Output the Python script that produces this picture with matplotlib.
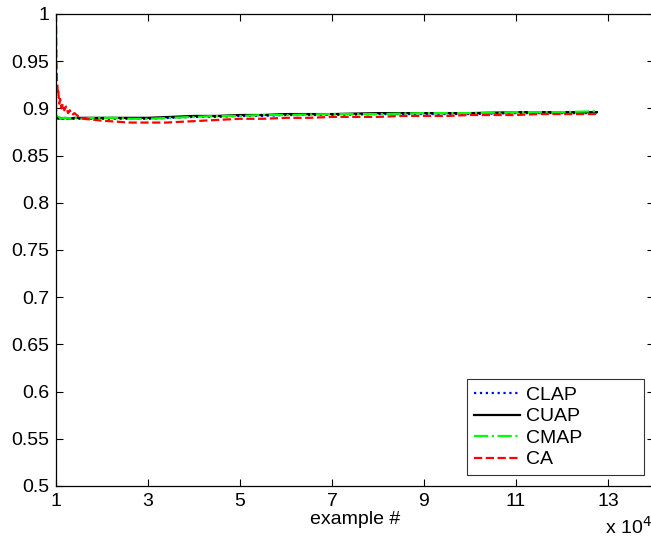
import matplotlib
matplotlib.use('Agg')
import matplotlib.pyplot as plt

plt.rcParams['font.family'] = ['Liberation Sans', 'DejaVu Sans']

# accuracy curves (x = example #)
ca_x = [10000, 10050, 10100, 10200, 10300, 10400, 10500, 10700, 10900, 11200,
        11500, 11800, 12200, 12600, 13000, 13500, 14000, 15000, 16000, 18000,
        20000, 23000, 26000, 30000, 34000, 38000, 42000, 46000, 50000, 55000,
        60000, 65000, 70000, 75000, 80000, 85000, 90000, 95000, 100000, 105000,
        110000, 115000, 120000, 124000, 127600]
ca_y = [1.0, 0.97, 0.95, 0.93, 0.925, 0.915, 0.918, 0.905, 0.91, 0.90,
        0.905, 0.898, 0.902, 0.895, 0.898, 0.893, 0.895, 0.891, 0.889, 0.888,
        0.887, 0.886, 0.885, 0.885, 0.885, 0.886, 0.887, 0.888, 0.889, 0.889,
        0.890, 0.890, 0.891, 0.891, 0.891, 0.892, 0.892, 0.892, 0.893, 0.893,
        0.893, 0.894, 0.894, 0.894, 0.894]

base_x = [10000, 10100, 10300, 10600, 11000, 11500, 12000, 13000, 14000, 16000,
          18000, 20000, 23000, 26000, 30000, 35000, 40000, 45000, 50000, 55000,
          60000, 70000, 80000, 90000, 100000, 110000, 120000, 127600]
cuap_y = [0.893, 0.889, 0.891, 0.889, 0.890, 0.889, 0.890, 0.889, 0.890, 0.890,
          0.890, 0.890, 0.890, 0.890, 0.890, 0.891, 0.892, 0.892, 0.893, 0.893,
          0.894, 0.894, 0.895, 0.895, 0.895, 0.896, 0.896, 0.896]
cmap_y = [0.912, 0.892, 0.889, 0.891, 0.889, 0.890, 0.890, 0.889, 0.890, 0.889,
          0.890, 0.890, 0.890, 0.889, 0.889, 0.890, 0.891, 0.892, 0.892, 0.893,
          0.893, 0.894, 0.894, 0.895, 0.895, 0.896, 0.896, 0.897]
clap_y = [0.890, 0.889, 0.890, 0.889, 0.889, 0.889, 0.889, 0.889, 0.889, 0.889,
          0.889, 0.889, 0.889, 0.889, 0.889, 0.890, 0.891, 0.891, 0.892, 0.892,
          0.893, 0.893, 0.894, 0.894, 0.894, 0.895, 0.895, 0.895]

xticks = [10000, 30000, 50000, 70000, 90000, 110000, 130000]
xtick_labels = ['1', '3', '5', '7', '9', '11', '13']
yticks = [0.5, 0.55, 0.6, 0.65, 0.7, 0.75, 0.8, 0.85, 0.9, 0.95, 1.0]
ytick_labels = ['0.5', '0.55', '0.6', '0.65', '0.7', '0.75', '0.8', '0.85', '0.9', '0.95', '1']

fig = plt.figure(figsize=(6.51, 5.39), dpi=100)
ax = fig.add_axes([56 / 651, 53 / 539, 598 / 651, 472 / 539])

ax.plot(base_x, clap_y, color='blue', linestyle=':', linewidth=1.6, label='CLAP')
ax.plot(base_x, cuap_y, color='black', linestyle='-', linewidth=1.6, label='CUAP')
ax.plot(base_x, cmap_y, color='#00ff00', linestyle='-.', linewidth=1.6, label='CMAP')
ax.plot(ca_x, ca_y, color='red', linestyle='--', linewidth=1.6, label='CA')

ax.set_xlim(10000, 140000)
ax.set_ylim(0.5, 1.0)
ax.set_xticks(xticks)
ax.set_xticklabels(xtick_labels)
ax.set_yticks(yticks)
ax.set_yticklabels(ytick_labels)
ax.tick_params(direction='in', top=True, right=True, length=5, width=0.8,
               labelsize=14, pad=5)
for s in ax.spines.values():
    s.set_linewidth(0.9)

ax.set_xlabel('example #', fontsize=14, labelpad=1)
fig.text(605 / 651, 0.010, r'x 10$^4$', fontsize=14, ha='left', va='baseline')

leg = ax.legend(loc='lower left', bbox_to_anchor=(0.687, 0.023, 0.296, 0.2),
                mode='expand', fontsize=14, frameon=True, fancybox=False,
                handlelength=2.4, borderpad=0.35, labelspacing=0.2,
                handletextpad=0.3, borderaxespad=0)
leg.get_frame().set_edgecolor('black')
leg.get_frame().set_linewidth(0.8)

fig.savefig('out.png', dpi=100)
